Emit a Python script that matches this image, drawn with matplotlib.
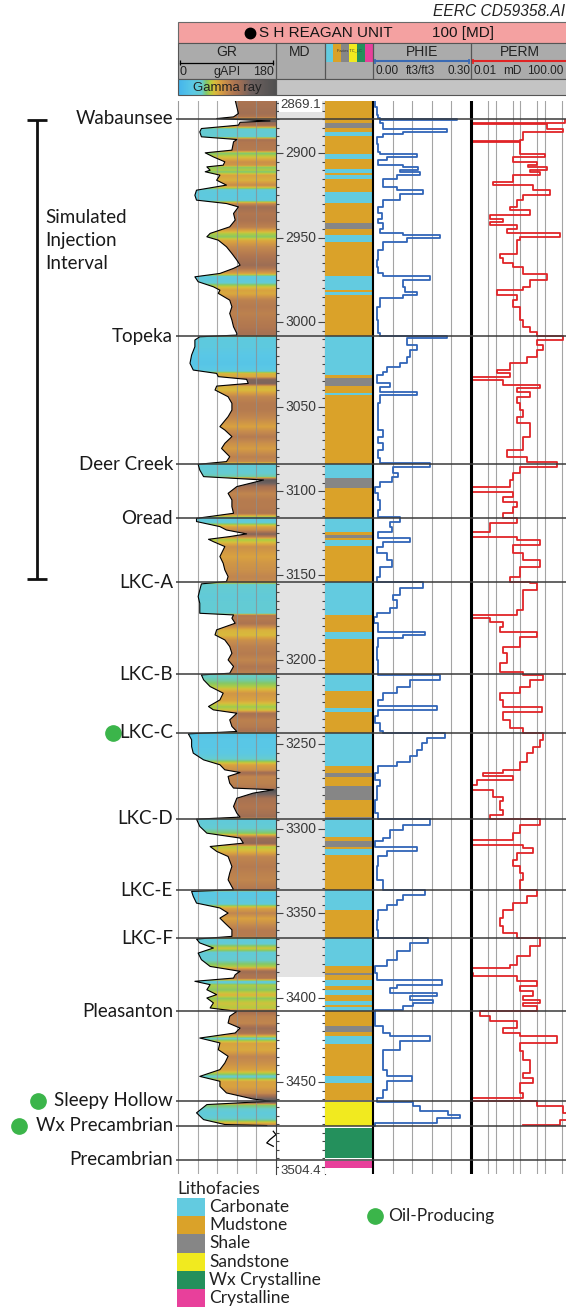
import numpy as np
import matplotlib
matplotlib.use('Agg')
import matplotlib.pyplot as plt
from matplotlib.patches import Rectangle, Polygon
from matplotlib.colors import LinearSegmentedColormap, Normalize
from matplotlib.ticker import MultipleLocator

plt.rcParams['font.family'] = ['Lato', 'DejaVu Sans']
HDR = ['Liberation Sans', 'DejaVu Sans']

# ---------------- data ----------------
well_name = "S H REAGAN UNIT"
depth_top, depth_bottom = 2869.1, 3504.4
md_shade_bottom = 3387.6

gr_depth = [2868.6, 2872.6, 2876.5, 2878.5, 2879.5, 2880.9, 2881.7, 2883.4, 2885.4, 2887.4,
            2890.3, 2891.9, 2893.3, 2898.2, 2899.8, 2902.2, 2905.1, 2907.1, 2908.1, 2910.1,
            2911.0, 2913.0, 2916.0, 2918.9, 2921.9, 2924.9, 2927.8, 2929.8, 2931.8, 2935.7,
            2939.6, 2943.6, 2947.5, 2949.5, 2951.5, 2955.4, 2959.4, 2963.3, 2966.3, 2968.2,
            2971.2, 2973.2, 2976.1, 2979.1, 2981.1, 2983.0, 2987.0, 2990.9, 2994.9, 2998.8,
            3002.8, 3006.7,
            3007.7, 3008.7, 3010.6, 3014.6, 3019.5, 3024.4, 3028.4, 3030.4, 3032.3, 3033.9,
            3036.3, 3037.9, 3040.2, 3044.2, 3048.1, 3052.1, 3056.0, 3061.9, 3063.9, 3067.8,
            3071.8, 3074.8, 3079.7, 3082.6, 3084.2, 3087.6, 3091.5, 3093.5, 3097.4, 3101.4,
            3105.3, 3109.3, 3113.2, 3116.2, 3118.1, 3121.1, 3123.1, 3125.4, 3127.0, 3128.6,
            3130.0, 3132.9, 3138.8, 3142.8, 3146.7, 3150.7, 3153.6,
            3155.0, 3158.6, 3162.5, 3166.5, 3172.4, 3173.4, 3175.3, 3178.3, 3182.2, 3185.2,
            3188.2, 3192.1, 3196.1, 3200.0, 3203.9, 3207.9, 3208.9, 3211.8, 3215.8, 3219.7,
            3223.7, 3227.6, 3229.6, 3231.6, 3235.5, 3239.4, 3242.4, 3243.8, 3247.3, 3251.3,
            3255.2, 3259.2, 3262.1, 3265.1, 3266.7, 3269.0, 3273.0, 3275.9, 3276.9, 3278.9,
            3281.9, 3286.8, 3290.7, 3293.1, 3294.3, 3298.6, 3302.6, 3305.5, 3308.5, 3310.5,
            3313.4, 3316.4, 3322.3, 3326.2,
            3330.2, 3336.1, 3337.1, 3340.0, 3344.0, 3346.9, 3349.9, 3352.9, 3355.8, 3359.8,
            3363.7, 3365.3, 3367.6, 3370.6, 3373.6, 3377.5, 3381.5, 3384.4, 3386.4, 3388.4,
            3390.3, 3392.3, 3395.3, 3398.2, 3400.2, 3403.1, 3406.1, 3408.1, 3411.0, 3415.0,
            3418.0, 3420.9, 3423.9, 3426.8, 3430.8, 3434.7, 3438.7, 3442.6, 3446.6, 3449.5,
            3452.5, 3456.4, 3460.0, 3461.3, 3463.3, 3468.2, 3472.2, 3475.1, 3475.7]
gr_value = [105, 108, 111, 102, 71, 169, 114, 111, 43, 40,
            43, 108, 102, 99, 50, 65, 86, 83, 53, 59,
            50, 77, 71, 89, 34, 31, 34, 89, 111, 102,
            105, 95, 59, 53, 74, 89, 99, 108, 114, 102,
            77, 31, 37, 65, 77, 74, 95, 99, 95, 99,
            102, 108,
            108, 40, 31, 31, 25, 22, 28, 71, 74, 126,
            129, 71, 68, 92, 99, 99, 92, 77, 86, 99,
            86, 80, 95, 89, 37, 40, 47, 157, 108, 92,
            99, 99, 102, 34, 34, 77, 89, 126, 95, 56,
            65, 86, 77, 83, 86, 92, 89,
            43, 40, 37, 40, 40, 102, 99, 105, 71, 68,
            86, 95, 99, 92, 102, 95, 43, 47, 59, 83,
            77, 56, 65, 108, 95, 99, 108, 19, 25, 25,
            28, 47, 77, 86, 114, 92, 95, 102, 175, 138,
            108, 102, 108, 114, 34, 40, 53, 114, 120, 59,
            71, 92, 99, 95,
            92, 102, 25, 28, 34, 77, 92, 77, 86, 99,
            99, 34, 40, 65, 37, 43, 59, 114, 105, 102,
            31, 59, 53, 71, 53, 65, 59, 108, 95, 92,
            114, 105, 40, 77, 74, 92, 86, 77, 40, 77,
            77, 89, 138, 169, 53, 34, 47, 86, 163]
gr_tail_depth = [3479.1, 3481.1, 3484.0, 3486.0, 3488.0]
gr_tail_value = [175, 180, 169, 163, 175]

phie_depth = [2868.6, 2872.6, 2877.5, 2878.9, 2879.5, 2880.5, 2882.4, 2885.4, 2887.4, 2888.4,
              2890.3, 2894.3, 2899.2, 2900.2, 2902.2, 2904.1, 2907.1, 2908.1, 2910.1, 2911.0,
              2913.0, 2915.0, 2919.9, 2921.9, 2923.9, 2927.8, 2931.8, 2935.7, 2938.7, 2941.6,
              2944.6, 2947.5, 2948.5, 2950.5, 2952.5, 2957.4, 2963.3, 2967.3, 2971.2, 2972.6,
              2975.1, 2979.1, 2982.0, 2984.0, 2986.0, 2990.9, 2998.8, 3006.7, 3008.3,
              3009.7, 3013.6, 3016.6, 3020.5, 3024.4, 3026.4, 3029.4, 3031.4, 3036.3, 3038.3,
              3041.2, 3043.2, 3048.1, 3056.0, 3063.9, 3067.8, 3071.8, 3075.7, 3080.7, 3083.6,
              3085.6, 3089.5, 3091.5, 3094.5, 3097.4, 3101.4, 3105.3, 3111.2, 3115.2, 3118.1,
              3121.1, 3124.1, 3128.0, 3130.0, 3132.9, 3136.9, 3140.8, 3144.8, 3150.7, 3154.0,
              3157.6, 3161.5, 3164.5, 3169.4, 3172.4, 3174.4, 3178.3, 3183.2, 3185.2, 3187.2,
              3192.1, 3200.0, 3205.9, 3208.9, 3211.8, 3215.8, 3219.7, 3223.7, 3227.6, 3229.6,
              3233.5, 3237.5, 3242.4, 3243.4, 3246.4, 3249.3, 3253.2, 3257.2, 3260.2, 3263.1,
              3267.0, 3271.0, 3274.9, 3282.8, 3290.7, 3294.3, 3297.6, 3300.6, 3305.5, 3307.5,
              3310.5, 3313.4, 3316.4, 3322.3,
              3330.2, 3336.5, 3339.1, 3342.0, 3345.0, 3348.0, 3353.8, 3359.8, 3364.7, 3367.6,
              3372.6, 3377.5, 3381.5, 3385.4, 3389.3, 3392.3, 3394.3, 3397.2, 3399.2, 3401.2,
              3403.1, 3405.1, 3407.1, 3413.0, 3417.0, 3420.9, 3422.9, 3425.8, 3430.8, 3436.7,
              3442.6, 3446.6, 3449.5, 3454.4, 3459.4, 3461.9, 3464.3, 3467.2, 3469.2, 3471.2,
              3474.2, 3475.7]
phie_value = [.006, .011, .016, .021, .256, .021, .032, .225, .093, .032,
              .011, .016, .021, .134, .042, .016, .093, .139, .083, .144,
              .072, .032, .072, .154, .083, .032, .016, .027, .016, .032,
              .021, .093, .205, .103, .032, .016, .011, .016, .032, .174,
              .093, .098, .134, .093, .021, .011, .016, .021, .225,
              .103, .134, .113, .103, .083, .042, .032, .011, .052, .021,
              .134, .021, .016, .016, .032, .016, .032, .016, .021, .174,
              .062, .078, .057, .021, .006, .016, .021, .016, .083, .052,
              .057, .016, .113, .032, .011, .042, .057, .021, .011, .154,
              .083, .062, .072, .052, .011, .003, .016, .159, .093, .016,
              .011, .016, .016, .205, .113, .072, .032, .016, .195, .016,
              .006, .021, .032, .220, .164, .149, .134, .113, .072, .016,
              .006, .021, .011, .006, .016, .174, .093, .052, .032, .006,
              .134, .042, .016, .011,
              .032, .159, .093, .072, .042, .016, .011, .016, .169, .113,
              .072, .042, .006, .011, .210, .072, .052, .195, .113, .185,
              .123, .093, .006, .006, .032, .052, .174, .083, .032, .032,
              .042, .118, .042, .032, .011, .123, .144, .231, .266, .195,
              .006, .001]

perm_depth = [2880.1, 2882.1, 2882.8, 2885.4, 2887.4, 2891.9, 2892.7, 2893.3, 2899.2, 2900.2,
              2902.2, 2905.1, 2907.1, 2908.1, 2910.1, 2911.0, 2913.0, 2917.0, 2918.9, 2921.9,
              2924.9, 2927.8, 2931.8, 2933.7, 2936.7, 2938.7, 2940.6, 2942.6, 2944.6, 2947.5,
              2949.5, 2951.5, 2955.4, 2959.4, 2962.3, 2965.3, 2967.3, 2971.6, 2975.1, 2979.1,
              2981.1, 2984.0, 2987.0, 2990.9, 2994.9, 2998.8, 3002.8, 3005.7, 3008.3,
              3010.6, 3013.6, 3016.6, 3020.5, 3024.4, 3028.4, 3030.4, 3032.3, 3034.3, 3037.3,
              3039.2, 3041.2, 3044.2, 3048.1, 3052.1, 3056.0, 3060.0, 3063.9, 3067.8, 3071.8,
              3075.7, 3079.7, 3083.0, 3085.6, 3089.5, 3093.5, 3097.4, 3100.4, 3103.3, 3106.3,
              3109.3, 3113.2, 3116.2, 3119.1, 3124.1, 3127.0, 3129.0, 3132.0, 3136.9, 3140.8,
              3144.8, 3150.7, 3154.0,
              3154.6, 3158.6, 3164.5, 3170.4, 3173.4, 3175.3, 3177.3, 3180.3, 3183.2, 3186.2,
              3192.1, 3196.1, 3202.0, 3206.9, 3208.9, 3211.8, 3215.8, 3219.7, 3223.7, 3228.0,
              3230.6, 3235.5, 3240.4, 3243.4, 3247.3, 3251.3, 3255.2, 3260.2, 3265.1, 3267.1,
              3269.0, 3271.0, 3274.0, 3276.9, 3280.9, 3283.8, 3288.8, 3291.7, 3294.3, 3297.6,
              3302.6, 3306.5, 3309.5, 3311.5, 3314.4, 3318.3, 3322.3, 3326.2,
              3330.2, 3336.5, 3340.0, 3344.0, 3347.9, 3352.9, 3357.8, 3361.7, 3364.7, 3369.6,
              3375.5, 3380.5, 3382.4, 3385.4, 3387.4, 3390.3, 3393.3, 3396.3, 3399.2, 3401.2,
              3403.1, 3405.1, 3408.1, 3411.0, 3414.0, 3417.9, 3420.9, 3422.9, 3426.8, 3431.8,
              3436.7, 3441.6, 3444.6, 3447.5, 3450.5, 3456.4, 3459.4, 3461.3, 3464.3, 3468.2,
              3472.2, 3475.1]
perm_value = [69, 0.0125, 12.2, 59, 1.37, 1.0, 0.0106, 1.0, 1.0, 10.5,
              0.53, 4.8, 2.2, 12.2, 2.56, 6.5, 0.53, 0.082, 3.5, 16.7,
              1.37, 0.73, 0.39, 2.56, 0.06, 0.21, 0.06, 0.73, 0.29, 43,
              1.0, 0.73, 0.73, 0.15, 0.21, 0.53, 1.37, 12.2, 2.56, 1.37,
              0.11, 0.73, 0.53, 1.0, 1.0, 1.37, 2.56, 4.8, 59,
              4.8, 9.0, 4.8, 1.87, 0.39, 0.11, 0.39, 0.0106, 0.21, 6.5,
              0.73, 2.56, 0.73, 1.0, 1.37, 0.73, 2.56, 2.56, 1.37, 1.37,
              0.29, 1.87, 31, 1.0, 0.53, 0.39, 0.0106, 0.53, 0.21, 0.73,
              0.53, 0.21, 0.73, 0.06, 0.0106, 0.73, 6.5, 0.53, 1.37, 6.5,
              1.0, 0.39, 2.56,
              4.8, 1.37, 1.37, 0.73, 0.0106, 0.06, 0.21, 0.15, 4.8, 1.0,
              0.21, 0.29, 0.15, 1.37, 9.0, 2.56, 1.0, 0.15, 0.21, 7.7,
              0.21, 0.39, 1.37, 9.0, 6.5, 3.5, 1.87, 1.0, 0.21, 0.032,
              0.53, 0.017, 0.0106, 0.082, 0.21, 0.15, 0.21, 0.06, 6.5, 1.0,
              0.53, 0.0106, 1.37, 3.5, 0.73, 0.53, 1.0, 1.37,
              1.0, 4.8, 1.87, 0.53, 0.21, 0.15, 0.21, 0.73, 6.5, 2.56,
              0.73, 0.39, 0.0106, 0.0125, 0.73, 4.8, 1.0, 3.5, 1.37, 6.5,
              1.37, 4.8, 0.023, 0.06, 0.73, 0.21, 1.0, 31, 1.0, 1.37,
              2.56, 2.56, 1.37, 3.5, 1.0, 1.37, 0.0106, 4.8, 59, 90,
              43, 1.37]

facies_names = ["Carbonate", "Mudstone", "Shale", "Sandstone", "Wx Crystalline", "Crystalline"]
facies_colors = ["#63cbe0", "#daa229", "#868686", "#f1ea1f", "#24905c", "#e8409b"]
facies_top = [2869.1, 2882.4, 2884.8, 2887.4, 2889.9, 2900.2, 2903.2, 2909.1, 2912.0, 2913.0,
              2915.0, 2922.9, 2929.4, 2941.6, 2944.6, 2948.5, 2952.5, 2972.6, 2981.0, 2982.0,
              2984.0, 3008.3, 3031.4, 3033.3, 3037.9, 3041.8, 3043.2, 3084.2, 3092.5, 3098.4,
              3116.2, 3124.1, 3126.1, 3128.0, 3129.0, 3132.5, 3154.0, 3173.4, 3183.2, 3187.7,
              3208.5, 3218.7, 3228.2, 3230.6, 3243.0, 3263.1, 3267.0, 3269.5, 3274.9, 3282.8,
              3292.8, 3294.2, 3304.6, 3307.5, 3310.5, 3312.0, 3315.4, 3336.5, 3347.9, 3364.7,
              3381.5, 3385.4, 3386.4, 3389.8, 3393.3, 3395.3, 3398.2, 3402.2, 3404.5, 3405.5,
              3408.1, 3417.0, 3420.5, 3422.9, 3427.2, 3446.2, 3450.5, 3462.0, 3477.1, 3496.9]
facies_base = [2882.4, 2884.8, 2887.4, 2889.9, 2900.2, 2903.2, 2909.1, 2912.0, 2913.0, 2915.0,
               2922.9, 2929.4, 2941.6, 2944.6, 2948.5, 2952.5, 2972.6, 2981.0, 2982.0, 2984.0,
               3008.3, 3031.4, 3033.3, 3037.9, 3041.8, 3043.2, 3084.2, 3092.5, 3098.4, 3116.2,
               3124.1, 3126.1, 3128.0, 3129.0, 3132.5, 3154.0, 3173.4, 3183.2, 3187.7, 3208.5,
               3218.7, 3228.2, 3230.6, 3243.0, 3263.1, 3267.0, 3269.5, 3274.9, 3282.8, 3292.8,
               3294.2, 3304.6, 3307.5, 3310.5, 3312.0, 3315.4, 3336.5, 3347.9, 3364.7, 3381.5,
               3385.4, 3386.4, 3389.8, 3393.3, 3395.3, 3398.2, 3402.2, 3404.5, 3405.5, 3408.1,
               3417.0, 3420.5, 3422.9, 3427.2, 3446.2, 3450.5, 3460.8, 3475.7, 3494.9, 3500.8]
facies_code = [1, 2, 1, 0, 1, 0, 1, 0, 1, 0,
               1, 0, 1, 2, 1, 0, 1, 0, 1, 0,
               1, 0, 1, 2, 1, 0, 1, 0, 2, 1,
               0, 1, 2, 1, 0, 1, 0, 1, 0, 1,
               0, 1, 0, 1, 0, 1, 2, 1, 2, 1,
               2, 0, 1, 2, 1, 0, 1, 0, 1, 0,
               1, 2, 1, 0, 1, 0, 1, 0, 1, 0,
               1, 2, 1, 0, 1, 0, 1, 3, 4, 5]

top_names = ["Wabaunsee", "Topeka", "Deer Creek", "Oread", "LKC-A", "LKC-B", "LKC-C",
             "LKC-D", "LKC-E", "LKC-F", "Pleasanton", "Sleepy Hollow", "Wx Precambrian",
             "Precambrian"]
top_depths = [2879.5, 3008.3, 3084.2, 3116.2, 3154.0, 3208.5, 3243.2, 3294.2, 3336.5,
              3364.7, 3408.1, 3461.0, 3475.7, 3495.9]
oil_producing = ["LKC-C", "Sleepy Hollow", "Wx Precambrian"]
injection_interval = (2880.5, 3152.0)

assert len(gr_depth) == len(gr_value)
assert len(phie_depth) == len(phie_value)
assert len(perm_depth) == len(perm_value)
assert len(facies_top) == len(facies_base) == len(facies_code)

# ---------------- layout helpers ----------------
W, H = 566, 1311
Y_TOP, Y_BOT = 101, 1174
fig = plt.figure(figsize=(W / 100, H / 100), dpi=100)


def rect(x0, y0, x1, y1):
    return [x0 / W, 1 - y1 / H, (x1 - x0) / W, (y1 - y0) / H]


def track(x0, x1):
    ax = fig.add_axes(rect(x0, Y_TOP, x1, Y_BOT))
    ax.set_ylim(depth_bottom, depth_top)
    ax.set_xticks([])
    ax.set_yticks([])
    for s in ax.spines.values():
        s.set_visible(False)
    return ax


gr_cmap = LinearSegmentedColormap.from_list('gr', [
    (0.00, '#44b4ec'), (0.14, '#5ac8e6'), (0.24, '#66ccd0'), (0.29, '#84c868'),
    (0.33, '#b4cc40'), (0.37, '#d8be3c'), (0.43, '#d9a140'), (0.50, '#c4894e'),
    (0.57, '#b07650'), (0.65, '#986c56'), (0.75, '#6e6260'), (1.00, '#505050')])
GREEN = '#3bb54a'
GRID = '#8e8e8e'

# ---------------- header / legend canvas ----------------
ax_h = fig.add_axes([0, 0, 1, 1])
ax_h.set_xlim(0, W)
ax_h.set_ylim(H, 0)
ax_h.axis('off')

ax_h.text(433, 12, "EERC CD59358.AI", style='italic', fontsize=11.2, family=HDR,
          ha='left', va='center', color='#222222')
ax_h.add_patch(Rectangle((178, 22), W - 178 + 5, 21, fc='#f4a1a1', ec='#6a6a6a', lw=0.8))
ax_h.plot(250, 32.5, 'o', color='k', ms=7.5)
ax_h.text(259, 33, well_name, fontsize=11, family=HDR, ha='left', va='center', color='#151515')
ax_h.text(432, 33, "100 [MD]", fontsize=11, family=HDR, ha='left', va='center', color='#151515')

ax_h.add_patch(Rectangle((178, 43), W - 178 + 5, 36, fc='#ababab', ec='#555555', lw=0.8))
ax_h.add_patch(Rectangle((276, 79), W - 276 + 5, 16, fc='#c4c4c4', ec='#555555', lw=0.8))
ax_h.imshow(np.linspace(0, 1, 256)[None, :], cmap=gr_cmap, extent=[178, 276, 95, 79],
            origin='upper', aspect='auto', zorder=1)
ax_h.add_patch(Rectangle((178, 79), 98, 16, fc='none', ec='#555555', lw=0.8, zorder=2))
ax_h.set_xlim(0, W)
ax_h.set_ylim(H, 0)
ax_h.vlines([276, 325, 373, 471], 43, 79, color='#555555', lw=0.9)
for i, c in enumerate(facies_colors):
    ax_h.add_patch(Rectangle((325.5 + i * 7.9, 43.5), 7.9, 18.5, fc=c, lw=0))
ax_h.text(349, 50, "Facies TC_LC", fontsize=2.8, family=HDR, ha='center', va='center', color='#333333')

ax_h.text(227, 52, "GR", fontsize=10, family=HDR, ha='center', va='center', color='#222222')
ax_h.plot([180, 273], [62.5, 62.5], color='k', lw=0.9)
ax_h.vlines([180, 273], 60, 65, color='k', lw=0.9)
ax_h.text(180, 72, "0", fontsize=9, family=HDR, ha='left', va='center', color='#222222')
ax_h.text(227, 72, "gAPI", fontsize=9, family=HDR, ha='center', va='center', color='#222222')
ax_h.text(274, 72, "180", fontsize=9, family=HDR, ha='right', va='center', color='#222222')
ax_h.text(227, 88, "Gamma ray", fontsize=9.5, family=HDR, ha='center', va='center', color='#222222', zorder=3)

ax_h.text(300, 52, "MD", fontsize=10, family=HDR, ha='center', va='center', color='#222222')

ax_h.text(422, 52, "PHIE", fontsize=10, family=HDR, ha='center', va='center', color='#222222')
ax_h.plot([375, 469], [61, 61], color='#3a6ab4', lw=1.5)
ax_h.vlines([375, 469], 58.5, 63.5, color='#3a6ab4', lw=1.2)
ax_h.text(375, 71.5, "0.00", fontsize=8.5, family=HDR, ha='left', va='center', color='#222222')
ax_h.text(421, 71.5, "ft3/ft3", fontsize=8.5, family=HDR, ha='center', va='center', color='#222222')
ax_h.text(470, 71.5, "0.30", fontsize=8.5, family=HDR, ha='right', va='center', color='#222222')

ax_h.text(520, 52, "PERM", fontsize=10, family=HDR, ha='center', va='center', color='#222222')
ax_h.plot([473, 570], [61, 61], color='#e02424', lw=1.5)
ax_h.vlines([473], 58.5, 63.5, color='#e02424', lw=1.2)
ax_h.text(473, 71.5, "0.01", fontsize=8.5, family=HDR, ha='left', va='center', color='#222222')
ax_h.text(512, 71.5, "mD", fontsize=8.5, family=HDR, ha='center', va='center', color='#222222')
ax_h.text(527, 71.5, "100.00", fontsize=8.5, family=HDR, ha='left', va='center', color='#222222')

# legend
ax_h.text(177, 1189, "Lithofacies", fontsize=12.5, ha='left', va='center', color='#222222')
row_h = 18.2
for i, (nm, c) in enumerate(zip(facies_names, facies_colors)):
    y0 = 1198 + i * row_h
    ax_h.add_patch(Rectangle((177, y0), 28, row_h, fc=c, lw=0))
    ax_h.text(209, y0 + row_h / 2, nm, fontsize=12.5, ha='left', va='center', color='#222222')
ax_h.plot(375, 1216, 'o', color=GREEN, ms=11)
ax_h.text(388, 1216, "Oil-Producing", fontsize=12.5, ha='left', va='center', color='#222222')

# ---------------- GR track ----------------
ax_gr = track(178, 276)
dense = np.linspace(gr_depth[0], gr_depth[-1], 4000)
vals = np.interp(dense, gr_depth, gr_value)
im = ax_gr.imshow(vals[:, None], cmap=gr_cmap, norm=Normalize(0, 180),
                  extent=[0, 180, gr_depth[-1], gr_depth[0]], origin='upper',
                  aspect='auto', interpolation='bilinear', zorder=1)
verts = [(180, gr_depth[0])] + list(zip(gr_value, gr_depth)) + [(180, gr_depth[-1])]
poly = Polygon(verts, closed=True, fc='none', ec='none', transform=ax_gr.transData)
ax_gr.add_patch(poly)
im.set_clip_path(poly)
ax_gr.set_xlim(0, 180)
ax_gr.set_ylim(depth_bottom, depth_top)
for v in [36, 72, 108, 144]:
    ax_gr.axvline(v, color=GRID, lw=0.8, alpha=0.75, zorder=2)
ax_gr.plot(gr_value, gr_depth, color='k', lw=0.8, zorder=3)
ax_gr.plot(gr_tail_value, gr_tail_depth, color='k', lw=0.9, zorder=3)

# ---------------- MD track ----------------
ax_md = fig.add_axes(rect(276, Y_TOP, 325, Y_BOT))
ax_md.set_xlim(0, 1)
ax_md.set_ylim(depth_bottom, depth_top)
ax_md.axhspan(depth_top, md_shade_bottom, color='#e3e3e3', lw=0)
ax_md.yaxis.set_major_locator(MultipleLocator(50))
ax_md.yaxis.set_minor_locator(MultipleLocator(5))
ax_md.tick_params(axis='y', which='both', direction='in', left=True, right=True,
                  labelleft=False, color='#444444')
ax_md.tick_params(axis='y', which='major', length=5, width=0.8)
ax_md.tick_params(axis='y', which='minor', length=2.5, width=0.8)
ax_md.set_xticks([])
for side in ['top', 'bottom']:
    ax_md.spines[side].set_visible(False)
for side in ['left', 'right']:
    ax_md.spines[side].set_color('#444444')
    ax_md.spines[side].set_linewidth(0.8)
tr = ax_md.get_yaxis_transform()
for d in range(2900, 3451, 50):
    ax_md.text(0.5, d, str(d), transform=tr, ha='center', va='center', fontsize=10,
               family=HDR, color='#3a3a3a')
ax_md.text(0.5, depth_top + 2.6, f"{depth_top:.1f}", transform=tr, ha='center', va='center',
           fontsize=9.5, family=HDR, color='#3a3a3a',
           bbox=dict(fc='white', ec='none', pad=0.6))
ax_md.text(0.5, depth_bottom - 2.0, f"{depth_bottom:.1f}", transform=tr, ha='center', va='center',
           fontsize=9.5, family=HDR, color='#3a3a3a',
           bbox=dict(fc='white', ec='none', pad=0.6))

# ---------------- Facies track ----------------
ax_fa = track(325, 373)
ax_fa.set_xlim(0, 1)
ax_fa.barh(facies_top, 1, height=np.array(facies_base) - np.array(facies_top), left=0,
           align='edge', color=[facies_colors[c] for c in facies_code], lw=0)
ax_fa.set_ylim(depth_bottom, depth_top)

# ---------------- PHIE track ----------------
ax_ph = track(373, 471)
ax_ph.set_xlim(0, 0.30)
for v in [0.06, 0.12, 0.18, 0.24]:
    ax_ph.axvline(v, color=GRID, lw=0.8, alpha=0.8, zorder=1)
ax_ph.plot(phie_value, phie_depth, color='#3065b8', lw=1.3, drawstyle='steps-pre', zorder=3)

# ---------------- PERM track ----------------
ax_k = track(471, 569)
ax_k.set_xscale('log')
ax_k.set_xlim(0.01, 100)
ax_k.set_xticks([])
ax_k.minorticks_off()
for v in [0.05, 0.1, 0.5, 1, 5, 10, 50]:
    ax_k.axvline(v, color=GRID, lw=0.8, alpha=0.8, zorder=1)
ax_k.plot(perm_value, perm_depth, color='#e02428', lw=1.3, drawstyle='steps-pre', zorder=3)

# ---------------- overlay: tops, labels, borders ----------------
ax_o = fig.add_axes(rect(0, Y_TOP, W, Y_BOT))
ax_o.set_xlim(0, W)
ax_o.set_ylim(depth_bottom, depth_top)
ax_o.axis('off')
ax_o.axvline(178, color='#9a9a9a', lw=0.8)
ax_o.axvline(373, color='k', lw=1.5)
ax_o.axvline(471, color='k', lw=2.2)
ax_o.hlines(top_depths, 176, W, color='#3a3a3a', lw=1.1)
for nm, d in zip(top_names, top_depths):
    ax_o.text(173, d, nm, ha='right', va='center', fontsize=13.5, color='#1a1a1a')
dot_x = {"LKC-C": 113, "Sleepy Hollow": 38, "Wx Precambrian": 19}
for nm in oil_producing:
    d = top_depths[top_names.index(nm)]
    ax_o.plot(dot_x[nm], d, 'o', color=GREEN, ms=11, clip_on=False)
ax_o.vlines(37, injection_interval[0], injection_interval[1], color='#111111', lw=2)
ax_o.hlines(list(injection_interval), 27, 47, color='#111111', lw=2)
ax_o.text(45, 2951.5, "Simulated\nInjection\nInterval", ha='left', va='center',
          fontsize=13.5, linespacing=1.42, color='#1a1a1a')

fig.savefig('out.png', dpi=100)
